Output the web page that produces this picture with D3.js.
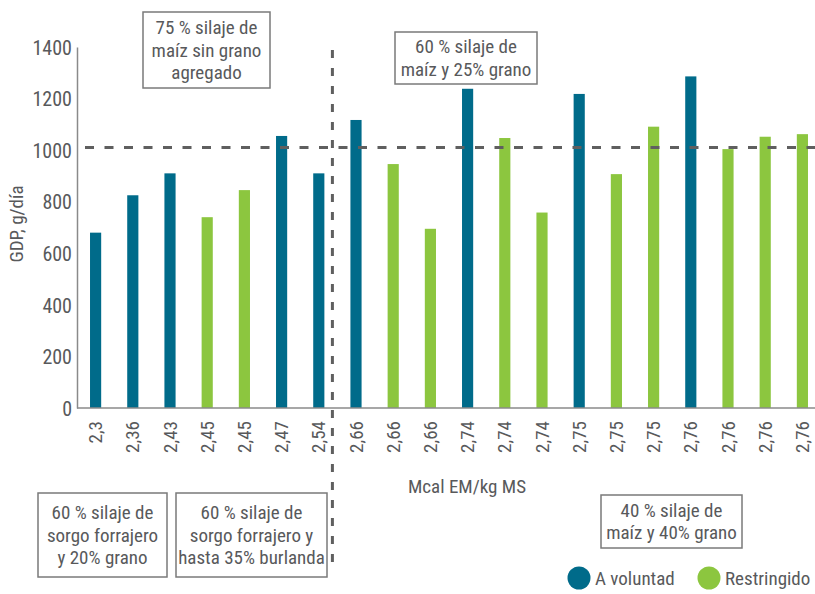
<!DOCTYPE html>
<html>
<head>
<meta charset="utf-8">
<script src="https://cdn.jsdelivr.net/npm/d3@7"></script>
<style>
  html, body { margin: 0; padding: 0; background: #fff; }
  svg { display: block; }
  text { font-family: "Liberation Sans Narrow", "Roboto Condensed", "DejaVu Sans Condensed", sans-serif; fill: #58595b; }
</style>
</head>
<body>
<svg id="chart" width="815" height="594"></svg>
<script>
// Energía de la dieta (Mcal EM/kg MS) por tratamiento
const energia = ["2,3","2,36","2,43","2,45","2,45","2,47","2,54","2,66","2,66","2,66",
                 "2,74","2,74","2,74","2,75","2,75","2,75","2,76","2,76","2,76","2,76"];
// Ganancia diaria de peso, g/día
const gdp = [680, 825, 910, 740, 845, 1055, 910, 1117, 946, 695,
             1238, 1047, 758, 1218, 907, 1091, 1286, 1004, 1052, 1062];
// Manejo de la alimentación de cada tratamiento
const manejo = ["A voluntad","A voluntad","A voluntad","Restringido","Restringido","A voluntad","A voluntad",
                "A voluntad","Restringido","Restringido","A voluntad","Restringido","Restringido",
                "A voluntad","Restringido","Restringido","A voluntad","Restringido","Restringido","Restringido"];
const seriesNames = ["A voluntad", "Restringido"];
const seriesColors = ["#006b8a", "#8cc63f"];
const yTicks = [0, 200, 400, 600, 800, 1000, 1200, 1400];
const referencia = 1010;

const svg = d3.select("#chart");
const color = d3.scaleOrdinal().domain(seriesNames).range(seriesColors);

const x = d3.scaleBand()
  .domain(d3.range(energia.length))
  .range([77, 821])
  .paddingInner(0.7)
  .paddingOuter(0.35);

const y = d3.scaleLinear().domain([0, 1400]).range([408, 47]);

// Barras
svg.append("g").selectAll("rect")
  .data(gdp)
  .join("rect")
  .attr("x", (d, i) => x(i))
  .attr("width", x.bandwidth())
  .attr("y", d => y(d))
  .attr("height", d => y(0) - y(d))
  .attr("fill", (d, i) => color(manejo[i]));

// Eje Y
const yAxis = svg.append("g")
  .attr("transform", "translate(77,0)")
  .call(d3.axisLeft(y).tickValues(yTicks).tickSize(0).tickPadding(5).tickFormat(d3.format("d")));
yAxis.select(".domain").attr("stroke", "#8a8a8a").attr("stroke-width", 1.5);
yAxis.selectAll("text").style("font-size", "20px").attr("fill", "#58595b").attr("dy", "0.36em");

// Eje X
const xAxis = svg.append("g")
  .attr("transform", "translate(0,408)")
  .call(d3.axisBottom(x).tickSize(0).tickFormat(i => energia[i]));
xAxis.select(".domain").attr("stroke", "#8a8a8a").attr("stroke-width", 1.5)
  .attr("d", "M77,0H815");
xAxis.selectAll("text")
  .style("font-size", "19px")
  .attr("fill", "#58595b")
  .attr("text-anchor", "end")
  .attr("transform", "rotate(-90)")
  .attr("x", -13)
  .attr("y", 0)
  .attr("dy", "0.35em");

// Títulos de ejes
svg.append("text")
  .attr("x", 467).attr("y", 493)
  .attr("text-anchor", "middle")
  .style("font-size", "19px")
  .text("Mcal EM/kg MS");

svg.append("text")
  .attr("transform", "translate(23,224) rotate(-90)")
  .attr("text-anchor", "middle")
  .style("font-size", "19px")
  .text("GDP, g/día");

// Línea de referencia horizontal
svg.append("line")
  .attr("x1", 85).attr("x2", 815)
  .attr("y1", y(referencia)).attr("y2", y(referencia))
  .attr("stroke", "#5f5f5f").attr("stroke-width", 3)
  .attr("stroke-dasharray", "9,10.5");

// Separación entre grupos de dietas
const xSep = (x(6) + x(7) + x.bandwidth()) / 2 - 5;
svg.append("line")
  .attr("x1", xSep).attr("x2", xSep)
  .attr("y1", 50).attr("y2", 568)
  .attr("stroke", "#5f5f5f").attr("stroke-width", 3)
  .attr("stroke-dasharray", "8,10");

// Cajas de dietas
const cajas = [
  { x0: 143, y0: 12, x1: 270, y1: 88, lineas: ["75 % silaje de", "maíz sin grano", "agregado"] },
  { x0: 395, y0: 32, x1: 537, y1: 84, lineas: ["60 % silaje de", "maíz y 25% grano"] },
  { x0: 38, y0: 493, x1: 167, y1: 577, lineas: ["60 % silaje de", "sorgo forrajero", "y 20% grano"] },
  { x0: 176, y0: 493, x1: 327, y1: 577, lineas: ["60 % silaje de", "sorgo forrajero y", "hasta 35% burlanda"] },
  { x0: 601, y0: 495, x1: 742, y1: 548, lineas: ["40 % silaje de", "maíz y 40% grano"] }
];
const gc = svg.append("g").selectAll("g").data(cajas).join("g");
gc.append("rect")
  .attr("x", d => d.x0).attr("y", d => d.y0)
  .attr("width", d => d.x1 - d.x0).attr("height", d => d.y1 - d.y0)
  .attr("fill", "#fff").attr("stroke", "#7a7a7a").attr("stroke-width", 1.5);
gc.each(function(d) {
  const n = d.lineas.length;
  const lh = 22.5;
  const cy = (d.y0 + d.y1) / 2;
  d3.select(this).selectAll("text").data(d.lineas).join("text")
    .attr("x", (d.x0 + d.x1) / 2)
    .attr("y", (t, i) => cy + (i - (n - 1) / 2) * lh)
    .attr("dy", "0.35em")
    .attr("text-anchor", "middle")
    .style("font-size", "19px")
    .text(t => t);
});

// Leyenda
const leyenda = svg.append("g").selectAll("g")
  .data(seriesNames).join("g")
  .attr("transform", (d, i) => `translate(${[579, 709][i]},578)`);
leyenda.append("circle").attr("r", 11.5).attr("fill", d => color(d));
leyenda.append("text")
  .attr("x", 16).attr("dy", "0.35em")
  .style("font-size", "19px")
  .text(d => d);
</script>
</body>
</html>
